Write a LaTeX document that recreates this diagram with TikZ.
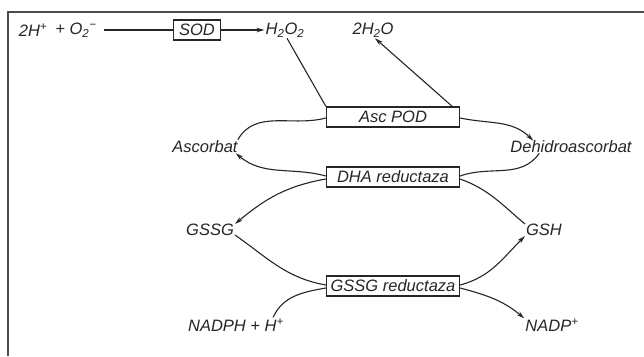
\documentclass[tikz,border=0pt]{standalone}
\usepackage{fontspec}
\setmainfont{Liberation Sans}
\usetikzlibrary{arrows.meta}
\begin{document}
\begin{tikzpicture}[x=1pt,y=1pt,
  lab/.style={font=\itshape\fontsize{16.5}{16.5}\selectfont, inner sep=1pt, text=black!85},
  enz/.style={draw=black!85, line width=1.3pt, minimum width=133pt, minimum height=20pt, inner sep=1pt,
     font=\itshape\fontsize{16.5}{16.5}\selectfont, text=black!85},
  conn/.style={line width=1.1pt, draw=black!85},
  arr/.style={conn, -{Stealth[length=8pt,width=4.5pt]}}]
\useasboundingbox (0,0) rectangle (644,356);
\fill[white] (0,0) rectangle (644,356);
\draw[line width=2pt, black!70] (8,0) -- (8,344) -- (644,344);

\node[lab] (h) at (33,326) {2H\textsuperscript{+}};
\node[lab] (o2) at (76,326) {+ O\textsubscript{2}\textsuperscript{−}};
\node[enz, minimum width=47pt] (sod) at (197,326) {SOD};
\node[lab] (h2o2) at (285,326) {H\textsubscript{2}O\textsubscript{2}};
\node[lab] (h2o) at (373,326) {2H\textsubscript{2}O};

\node[enz] (pod) at (393,239) {Asc POD};
\node[lab] (asc) at (205,209) {Ascorbat};
\node[lab] (dhasc) at (571,209) {Dehidroascorbat};
\node[enz] (dha) at (393,179) {DHA reductaza};
\node[lab] (gssg) at (210,126) {GSSG};
\node[lab] (gsh) at (544,126) {GSH};
\node[enz] (gr) at (393,70) {GSSG reductaza};
\node[lab] (nadph) at (236,31) {NADPH + H\textsuperscript{+}};
\node[lab] (nadp) at (552,31) {NADP\textsuperscript{+}};

% SOD row
\draw[conn, shorten <=6pt] (o2.east) -- (sod.west);
\draw[arr] (sod.east) -- (h2o2.west);

% Asc POD
\draw[conn] ([xshift=2pt]h2o2.south) -- (pod.north west);
\draw[arr] ([xshift=-8pt]pod.north east) -- ([xshift=2pt]h2o.south);
\draw[conn] ([xshift=-1pt]asc.north east) to[out=60,in=195] ([yshift=-1pt]pod.west);
\draw[arr] ([yshift=-1pt]pod.east) to[out=-12,in=135] ([xshift=24pt,yshift=-1pt]dhasc.north west);

% DHA reductaza
\draw[conn] ([xshift=30pt,yshift=1pt]dhasc.south west) to[out=-125,in=20] ([yshift=1pt]dha.east);
\draw[arr] ([yshift=1pt]dha.west) to[out=165,in=-40] ([xshift=-3pt,yshift=1pt]asc.south east);
\draw[arr] ([yshift=-2pt]dha.west) to[out=190,in=40] ([yshift=-1pt]gssg.north east);
\draw[conn] ([yshift=-1pt]gsh.north west) to[out=140,in=-20] ([yshift=-2pt]dha.east);

% GSSG reductaza
\draw[conn] ([yshift=2pt]gssg.south east) to[out=-35,in=170] ([yshift=1pt]gr.west);
\draw[conn] ([xshift=-12pt]nadph.north east) to[out=65,in=190] ([yshift=-2pt]gr.west);
\draw[arr] ([yshift=1pt]gr.east) to[out=15,in=-135] ([yshift=1pt]gsh.south west);
\draw[arr] ([yshift=-2pt]gr.east) to[out=-15,in=140] ([yshift=-1pt]nadp.north west);
\end{tikzpicture}
\end{document}
